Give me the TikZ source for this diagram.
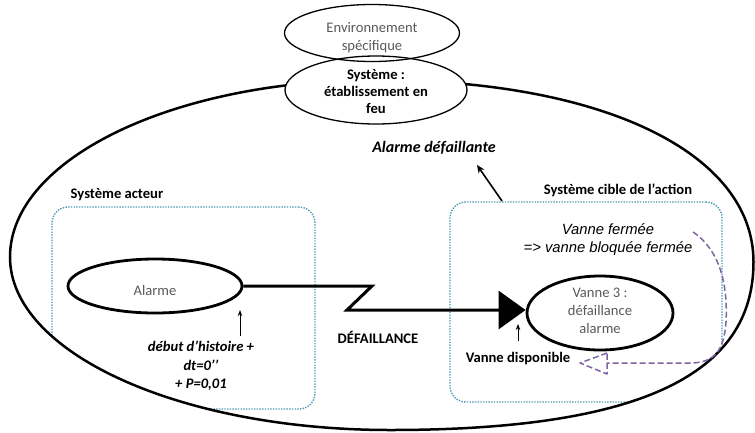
\documentclass[tikz,border=0pt]{standalone}
\usepackage{fontspec}
\setmainfont{Carlito}
\newfontfamily\arialfont{Liberation Sans}
\usetikzlibrary{shapes.geometric,arrows.meta}
\definecolor{boxblue}{RGB}{75,155,180}
\definecolor{lilac}{RGB}{128,100,162}
\definecolor{txtgray}{RGB}{89,89,89}
\tikzset{
  txt/.style={inner sep=0pt, align=center, font=\fontsize{14.6}{18}\selectfont},
  thinell/.style={ellipse, draw, line width=1.3pt, inner sep=0pt},
  thickell/.style={ellipse, draw, line width=2.8pt, inner sep=0pt},
  dotbox/.style={draw=boxblue, line width=1.4pt, dash pattern=on 1.4pt off 1.3pt, rounded corners=16pt, inner sep=0pt},
  smallarrow/.style={line width=0.9pt, -{Stealth[length=6pt,width=4.5pt]}},
}
\begin{document}
\begin{tikzpicture}[x=1pt,y=-1pt]
\useasboundingbox (0,0) rectangle (755,432);
% dotted boxes, clipped to the outer system
\begin{scope}
\clip (10,257) .. controls (10,159) and (174,80) .. (376,80) .. controls (603,80) and (753.5,153) .. (753.5,262) .. controls (753.5,376) and (637,430) .. (390,430) .. controls (180,430) and (10,353) .. (10,257) -- cycle;
\node[dotbox, minimum width=263pt, minimum height=202pt] (acteur) at (183.5,308) {};
\node[dotbox, minimum width=272pt, minimum height=200pt] (cible) at (586,302) {};
\end{scope}
% outer system outline
\draw[line width=2.5pt] (10,257) .. controls (10,159) and (174,80) .. (376,80) .. controls (603,80) and (753.5,153) .. (753.5,262) .. controls (753.5,376) and (637,430) .. (390,430) .. controls (180,430) and (10,353) .. (10,257) -- cycle;
% top ellipses
\node[thinell, fill=white, minimum width=182pt, minimum height=68pt] (sys) at (376,90) {};
\node[thinell, minimum width=175pt, minimum height=57pt] (env) at (372,33) {};
\node[txt, text=txtgray] (envtxt) at (372,38) {Environnement\\spécifique};
\node[txt, font=\fontsize{14.6}{17}\selectfont\bfseries] (systxt) at (376,92) {Système :\\établissement en\\feu};
% labels
\node[txt, font=\fontsize{16}{19}\selectfont\bfseries\itshape] (alarmdef) at (434,148) {Alarme défaillante};
\node[txt, font=\fontsize{14.6}{18}\selectfont\bfseries] (acteurlbl) at (117,195) {Système acteur};
\node[txt, font=\fontsize{14.6}{18}\selectfont\bfseries] (ciblelbl) at (618,190) {Système cible de l’action};
% alarm and valve
\node[thickell, minimum width=174pt, minimum height=54pt] (alarm) at (155,286) {};
\node[txt, text=txtgray] (alarmtxt) at (155,290) {Alarme};
\node[thickell, minimum width=146pt, minimum height=74pt] (vanne) at (600,313) {};
\node[txt, text=txtgray] (vannetxt) at (600,311) {Vanne 3 :\\défaillance\\alarme};
% failure connector
\coordinate (z1) at (372,286);
\coordinate (z2) at (347,310);
\draw[line width=3pt, -{Triangle[length=27pt,width=38pt]}] (alarm.east) -- (z1) -- (z2) -- (z2 -| vanne.west);
\node[txt, font=\fontsize{14.6}{18}\selectfont\bfseries] (defl) at (378,337) {DÉFAILLANCE};
% history note
\node[txt, font=\fontsize{14.6}{18.5}\selectfont\bfseries\itshape] (hist) at (201,366) {début d’histoire +\\dt=0’’\\+ P=0,01};
\coordinate (h1) at (240,336);
\coordinate (h2) at (240,310);
\draw[smallarrow] (h1) -- (h2);
% valve note
\node[txt, font=\fontsize{14.8}{18}\selectfont\arialfont\itshape] (vf) at (608,240) {Vanne fermée\\=> vanne bloquée fermée};
\node[txt, font=\fontsize{14.6}{18}\selectfont\bfseries] (vdispo) at (518,359) {Vanne disponible};
\coordinate (v1) at (518,341);
\coordinate (v2) at (518,324);
\draw[smallarrow] (v1) -- (v2);
% arrow to "Alarme défaillante"
\coordinate (a1) at (502,201);
\coordinate (a2) at (477,165);
\draw[line width=1.6pt, -{Stealth[length=8pt,width=7pt]}] (a1) -- (a2);
% purple dashed feedback
\coordinate (p0) at (693,232);
\coordinate (p1) at (607,363);
\coordinate (ptip) at (580,363);
\draw[lilac, line width=1.5pt, dash pattern=on 6pt off 3pt] (p0) .. controls (720,250) and (728,285) .. (726,322) .. controls (724,350) and (715,363) .. (690,363) -- (p1);
\draw[lilac, line width=1.5pt, dash pattern=on 6pt off 3pt, line join=round] (607,353) -- (ptip) -- (607,374) -- cycle;
\end{tikzpicture}
\end{document}
